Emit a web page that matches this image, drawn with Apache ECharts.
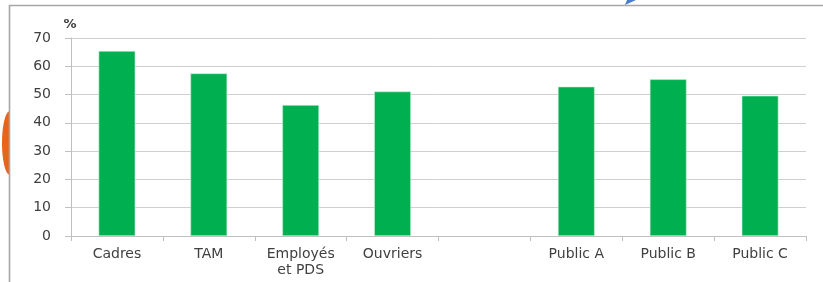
<!DOCTYPE html>
<html><head><meta charset="utf-8">
<script src="https://cdn.jsdelivr.net/npm/echarts@6/dist/echarts.min.js"></script>
<style>html,body{margin:0;padding:0;background:#fff}#c{width:823px;height:282px}</style>
</head><body><div id="c"></div>
<script>
var categories = ['Cadres', 'TAM', 'Employés\net PDS', 'Ouvriers', '', 'Public A', 'Public B', 'Public C'];
var values = [65.4, 57.5, 46.3, 51.1, null, 52.8, 55.4, 49.6];
var yTicks = [0, 10, 20, 30, 40, 50, 60, 70];

function halfEllipse(cx, cy, rx, ry) {
  var pts = [];
  for (var i = 0; i <= 40; i++) {
    var a = Math.PI / 2 + Math.PI * i / 40;
    pts.push([cx + rx * Math.cos(a), cy + ry * Math.sin(a)]);
  }
  return pts;
}

var chart = echarts.init(document.getElementById('c'));
chart.setOption({
  animation: false,
  textStyle: { fontFamily: 'DejaVu Sans' },
  grid: { left: 71, right: 17, top: 38, bottom: 46, containLabel: false },
  xAxis: {
    type: 'category',
    data: categories,
    boundaryGap: true,
    axisLine: { lineStyle: { color: '#bfbfbf', width: 1 } },
    axisTick: { show: true, length: 5, lineStyle: { color: '#bfbfbf' } },
    axisLabel: { color: '#404040', fontSize: 14, margin: 10, lineHeight: 16, interval: 0 }
  },
  yAxis: {
    type: 'value',
    min: yTicks[0],
    max: yTicks[yTicks.length - 1],
    interval: 10,
    name: '%',
    nameLocation: 'end',
    nameGap: 7,
    nameTextStyle: { color: '#404040', fontSize: 13, fontWeight: 'bold', align: 'center', padding: [0, 0, 0, -2] },
    axisLine: { show: true, lineStyle: { color: '#bfbfbf', width: 1 } },
    axisTick: { show: true, length: 6, lineStyle: { color: '#bfbfbf' } },
    axisLabel: { color: '#404040', fontSize: 14, margin: 20 },
    splitLine: { lineStyle: { color: '#cfcfcf', width: 1 } }
  },
  series: [{
    type: 'bar',
    data: values,
    barWidth: '40%',
    itemStyle: { color: '#00b050', borderColor: '#c8f0d8', borderWidth: 0.6 }
  }],
  graphic: [
    { type: 'polygon', shape: { points: halfEllipse(10, 143, 8, 32) }, style: { fill: '#e8631c' }, z: 100 },
    { type: 'line', shape: { x1: 9.5, y1: 5, x2: 9.5, y2: 282 }, style: { stroke: '#a6a6a6', lineWidth: 1.6 }, z: 101 },
    { type: 'line', shape: { x1: 9, y1: 5.5, x2: 823, y2: 5.5 }, style: { stroke: '#a6a6a6', lineWidth: 1.6 }, z: 101 },
    { type: 'polygon', shape: { points: [[627, 0], [636, 0], [625, 5]] }, style: { fill: '#4a7cc9' }, z: 102 }
  ]
});
</script></body></html>
